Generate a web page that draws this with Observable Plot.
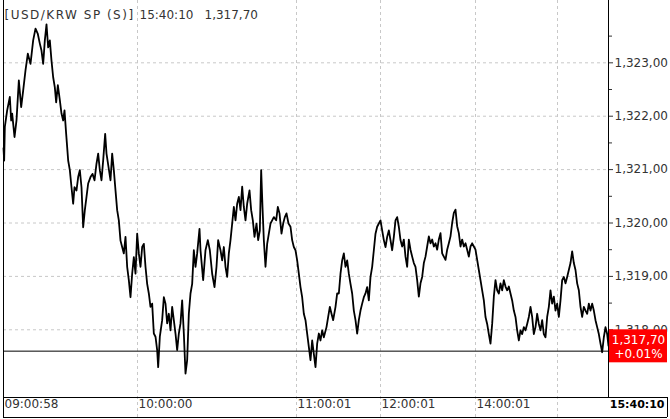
<!DOCTYPE html>
<html><head><meta charset="utf-8">
<script src="https://cdn.jsdelivr.net/npm/d3@7"></script>
<script src="https://cdn.jsdelivr.net/npm/@observablehq/plot@0.6"></script>
<style>body{margin:0;background:#fff;} #chart svg{overflow:visible;display:block}</style>
</head><body><div id="chart"></div>
<script>
// tick sequence number, price (USD/KRW)
const morning = [[9,1321.40],[11,1321.17],[13,1321.80],[20,1322.11],[28,1322.36],[32,1321.92],[35,1322.05],[39,1321.80],[42,1321.61],[48,1321.92],[55,1322.67],[62,1322.17],[68,1322.48],[75,1322.86],[82,1323.17],[90,1322.98],[98,1323.42],[105,1323.64],[112,1323.54],[118,1323.36],[123,1323.23],[128,1322.98],[133,1323.42],[138,1323.72],[143,1323.29],[148,1323.42],[153,1323.04],[158,1322.73],[163,1322.54],[167,1322.26],[172,1322.58],[178,1322.30],[183,1322.05],[188,1321.92],[192,1322.11],[197,1321.67],[200,1321.42],[203,1321.17],[208,1320.99],[213,1320.67],[218,1320.36],[222,1320.67],[228,1320.61],[233,1320.86],[238,1320.99],[243,1320.67],[248,1319.92],[253,1320.24],[258,1320.49],[263,1320.74],[270,1320.86],[276,1320.92],[282,1320.80],[288,1321.11],[293,1321.30],[298,1320.99],[303,1320.80],[308,1321.17],[314,1321.67],[318,1321.30],[324,1321.05],[330,1320.80],[335,1321.30],[340,1320.99],[345,1320.61],[350,1320.24],[355,1320.05],[360,1319.67],[365,1319.55],[370,1319.43],[375,1319.74],[380,1319.18],[385,1318.93],[390,1318.61],[395,1319.05],[400,1319.36],[405,1319.05],[410,1319.80],[415,1319.43],[420,1319.18],[425,1319.55],[430,1319.61],[435,1319.18],[440,1318.86],[445,1318.68],[450,1318.43],[455,1318.49],[460,1317.93],[465,1317.87],[470,1317.62],[473,1317.30],[478,1317.87],[485,1318.18],[490,1318.61],[495,1318.49],[500,1318.12],[505,1318.30],[510,1317.99],[515,1318.43],[520,1318.18],[525,1317.93],[530,1317.62],[535,1317.93],[540,1318.12],[545,1318.55],[550,1317.93],[555,1317.18],[560,1317.43],[565,1318.30],[570,1318.68],[575,1318.86],[580,1319.49],[585,1319.18],[590,1319.43],[597,1319.89]];
const midday = [[600,1319.49],[608,1318.93],[615,1319.49],[622,1319.68],[628,1319.49],[635,1319.05],[642,1318.80],[648,1319.18],[653,1319.68],[660,1319.49],[665,1319.30],[670,1319.55],[675,1319.18],[680,1318.99],[685,1319.43],[690,1319.68],[695,1319.99],[700,1320.30],[705,1320.05],[710,1320.36],[715,1320.49],[720,1320.24],[725,1320.68],[730,1320.30],[735,1320.05],[740,1320.36],[747,1320.61],[752,1320.24],[757,1320.05],[762,1319.74],[768,1319.99],[773,1319.68],[778,1319.86],[782,1320.99],[786,1320.30],[790,1319.68],[795,1319.18],[800,1319.61],[805,1319.80],[810,1319.99],[815,1320.05],[820,1320.11],[827,1320.05],[832,1320.30],[837,1320.18],[843,1319.80],[848,1319.99],[853,1320.11],[858,1320.18],[864,1319.99],[870,1319.93],[875,1319.68],[880,1319.55],[885,1319.49],[890,1319.30],[895,1319.05],[900,1318.80],[905,1318.61],[910,1318.30],[915,1318.18],[920,1317.93],[925,1317.68],[930,1317.43],[935,1317.80],[940,1317.55],[945,1317.30],[950,1317.74],[955,1317.93],[960,1317.80],[965,1317.99],[970,1317.86],[978,1318.05],[983,1318.24],[988,1318.43],[993,1318.30],[998,1318.18],[1005,1318.43],[1010,1318.68],[1015,1318.68],[1020,1319.05],[1025,1319.30],[1030,1319.43],[1035,1319.18],[1040,1319.30],[1045,1319.05],[1050,1318.86],[1055,1318.68],[1060,1318.36],[1065,1318.18],[1070,1317.93],[1075,1318.18],[1080,1318.36],[1085,1318.49],[1090,1318.61],[1095,1318.68],[1100,1318.80],[1105,1318.55],[1110,1318.99],[1115,1319.18],[1120,1319.49],[1125,1319.80],[1130,1319.93],[1135,1319.99],[1140,1320.05],[1145,1319.86],[1150,1319.68],[1155,1319.55],[1160,1319.74],[1165,1319.86],[1170,1319.68],[1175,1319.49],[1180,1319.74],[1185,1320.05],[1190,1320.11],[1195,1319.93],[1200,1319.68]];
const afternoon = [[1205,1319.56],[1210,1319.69],[1215,1319.37],[1220,1319.18],[1225,1319.69],[1230,1319.50],[1235,1319.37],[1240,1319.25],[1245,1319.18],[1250,1318.93],[1255,1318.62],[1260,1318.87],[1265,1318.99],[1270,1319.25],[1275,1319.37],[1280,1319.56],[1285,1319.75],[1290,1319.62],[1295,1319.69],[1300,1319.56],[1305,1319.62],[1310,1319.50],[1315,1319.69],[1320,1319.81],[1325,1319.43],[1330,1319.37],[1335,1319.31],[1340,1319.50],[1345,1319.62],[1350,1319.75],[1355,1320.00],[1360,1320.19],[1365,1320.25],[1370,1319.94],[1375,1319.81],[1380,1319.56],[1385,1319.69],[1390,1319.56],[1395,1319.62],[1400,1319.50],[1405,1319.37],[1410,1319.56],[1415,1319.62],[1420,1319.56],[1425,1319.50],[1430,1319.31],[1435,1319.12],[1440,1318.93],[1445,1318.74],[1450,1318.55],[1455,1318.24],[1460,1318.11],[1465,1317.92],[1470,1317.74],[1475,1318.11],[1480,1318.62],[1485,1318.93],[1490,1318.74],[1495,1318.68],[1500,1318.87],[1505,1318.74],[1510,1318.93],[1515,1318.81],[1520,1318.74],[1525,1318.81],[1530,1318.68],[1535,1318.55],[1540,1318.36],[1545,1318.24],[1550,1317.99],[1555,1317.80],[1560,1317.99],[1565,1317.92],[1570,1318.05],[1575,1317.99],[1580,1318.11],[1585,1318.24],[1590,1318.43],[1595,1318.24],[1600,1317.92],[1605,1318.05],[1610,1318.30],[1615,1318.11],[1620,1317.99],[1625,1318.18],[1630,1317.92],[1635,1317.86],[1640,1318.24],[1645,1318.43],[1650,1318.74],[1655,1318.49],[1660,1318.62],[1665,1318.36],[1670,1318.49],[1675,1318.24],[1680,1318.55],[1685,1318.93],[1690,1318.99],[1695,1318.87],[1700,1318.99],[1705,1319.12],[1710,1319.25],[1715,1319.47],[1720,1319.25],[1725,1319.12],[1730,1318.87],[1735,1318.74],[1740,1318.43],[1745,1318.24],[1750,1318.43],[1755,1318.36],[1760,1318.30],[1765,1318.49],[1770,1318.36],[1775,1318.49],[1780,1318.36],[1785,1318.18],[1790,1318.05],[1795,1317.92],[1800,1317.74],[1805,1317.58],[1810,1317.86],[1815,1318.05],[1820,1317.92],[1824,1317.70]];

const yMajor = [1318, 1319, 1320, 1321, 1322, 1323];
const yMinor = [1318.5, 1319.5, 1320.5, 1321.5, 1322.5, 1323.5];
const yDomain = [1316.732, 1324.167];
const gridSeq = [411, 888, 1140, 1425, 1671];
const xLabelSeq = [9, 411, 888, 1140, 1425];
const xLabels = ["09:00:58", "10:00:00", "11:00:01", "12:00:01", "14:00:01"];
const lastTime = "15:40:10";
const lastPrice = 1317.70;
const prevClose = 1317.60;
const changeText = "+0.01%";
const titleName = "[USD/KRW SP (S)]";

const data = [...morning, ...midday, ...afternoon].map(([s, p]) => ({s, p}));
const xDomain = [data[0].s, data[data.length - 1].s];
const lastSeq = xDomain[1];
const fmt = v => d3.format(",.2f")(v).replace(/\.(\d\d)$/, ",$1");
const grid = "#c8c8c8";

const chart = Plot.plot({
  width: 670, height: 419,
  marginLeft: 3, marginRight: 62, marginTop: 0, marginBottom: 22,
  x: {domain: xDomain, axis: null},
  y: {domain: yDomain, axis: null},
  style: {fontFamily: "DejaVu Sans", fontSize: "12px", background: "white", color: "#333"},
  marks: [
    Plot.ruleY(yMajor, {stroke: grid, strokeDasharray: "3,3"}),
    Plot.ruleX(gridSeq, {stroke: grid, strokeDasharray: "3,3", insetBottom: -20}),
    Plot.ruleY([prevClose], {stroke: "black", strokeWidth: 1}),
    Plot.line(data, {x: "s", y: "p", stroke: "black", strokeWidth: 1.8}),
    Plot.axisY(yMajor, {anchor: "right", label: null, tickSize: 4, tickPadding: 2, tickFormat: fmt, color: "#333", fontSize: 12}),
    Plot.axisY(yMinor, {anchor: "right", label: null, tickSize: 3, tickFormat: () => "", color: "#333"}),
    Plot.ruleX([xDomain[0]], {stroke: "black", insetBottom: -20}),
    Plot.ruleX([lastSeq], {stroke: "black"}),
    Plot.ruleX([lastSeq], {stroke: "black", dx: 59, insetTop: 397, insetBottom: -20}),
    Plot.ruleY([yDomain[0]], {stroke: "black", insetRight: -59}),
    Plot.ruleY([yDomain[0]], {stroke: "black", insetRight: -59, dy: 20}),
    Plot.rect([lastPrice], {x1: () => lastSeq, x2: () => lastSeq, y1: d => d, y2: d => d,
      insetLeft: 1, insetRight: -59, insetTop: -16, insetBottom: -17, fill: "#ff0000"}),
    Plot.text([lastPrice], {x: () => lastSeq, y: d => d, text: d => fmt(d), dx: 30, dy: -6, fill: "white", fontSize: 12}),
    Plot.text([changeText], {x: () => lastSeq, y: () => lastPrice, text: d => d, dx: 30, dy: 8, fill: "white", fontSize: 12}),
    Plot.text(xLabels, {x: (d, i) => xLabelSeq[i], frameAnchor: "bottom", dy: 10, dx: 1, textAnchor: "start", fill: "#333", fontSize: 12}),
    Plot.text([lastTime], {x: () => lastSeq, frameAnchor: "bottom", dy: 10, dx: 56, textAnchor: "end", fontWeight: "bold", fontSize: 11, fill: "black"}),
    Plot.text([titleName], {frameAnchor: "top-left", dx: 1, dy: 10, textAnchor: "start", fill: "#333", fontSize: 12}),
    Plot.text([lastTime], {x: () => 411, frameAnchor: "top", dy: 10, dx: 2, textAnchor: "start", fill: "#333", fontSize: 12}),
    Plot.text([lastPrice], {x: () => 411, frameAnchor: "top", text: d => fmt(d), dy: 10, dx: 67, textAnchor: "start", fill: "#333", fontSize: 12})
  ]
});
d3.select(chart).selectAll("text").filter(function() { return this.textContent === titleName; })
  .attr("letter-spacing", "1.5px");
document.getElementById("chart").appendChild(chart);
</script>
</body></html>
